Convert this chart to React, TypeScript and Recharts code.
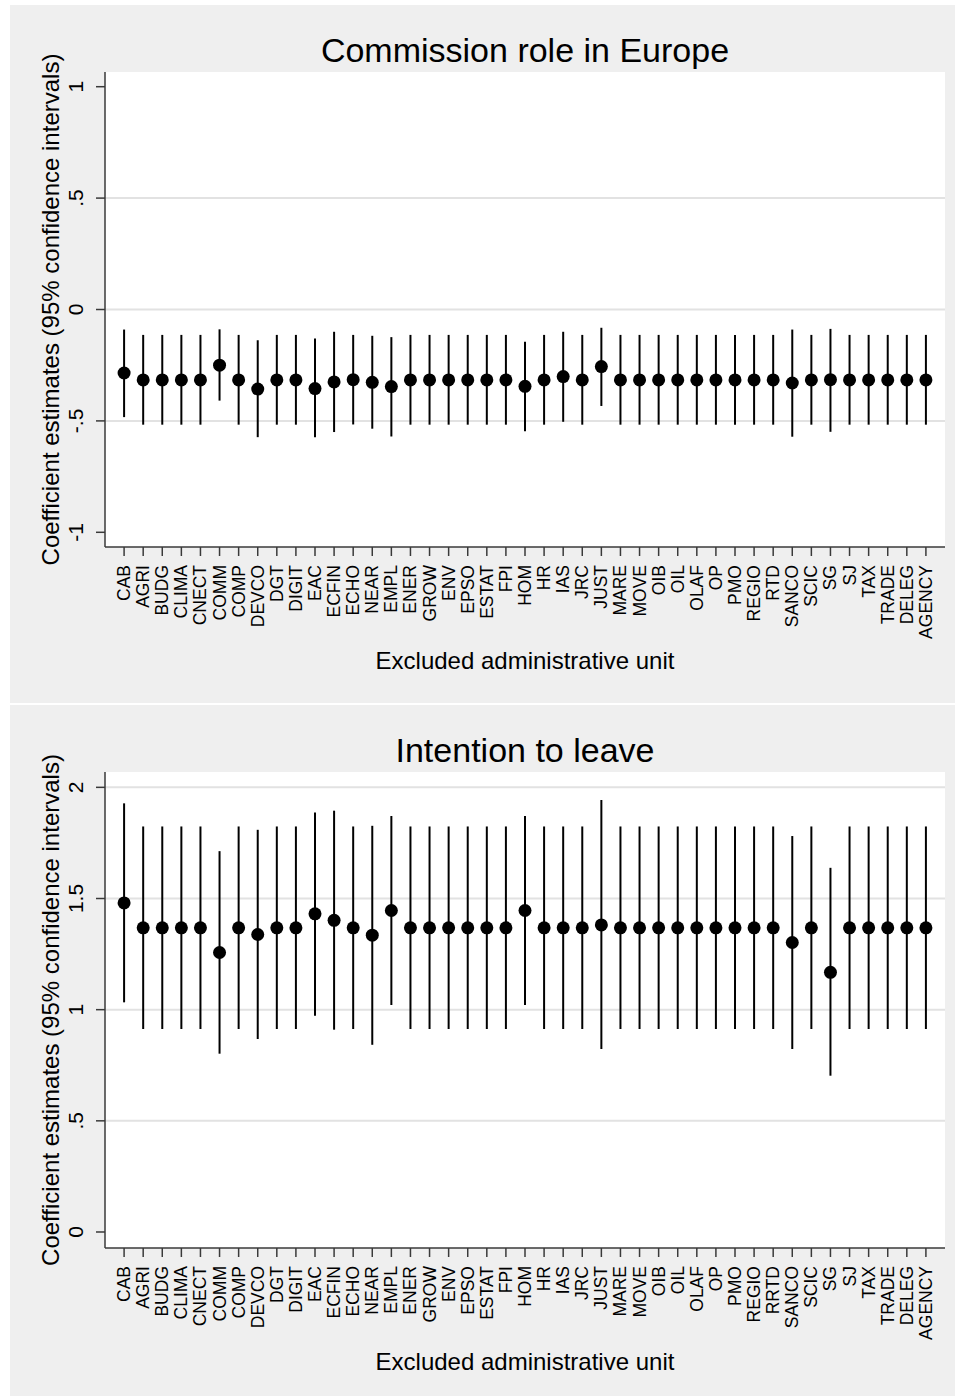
import { CartesianGrid, ErrorBar, Scatter, ScatterChart, XAxis, YAxis } from "recharts"

const unitsTop = [
  "CAB", "AGRI", "BUDG", "CLIMA", "CNECT", "COMM", "COMP", "DEVCO", "DGT", "DIGIT",
  "EAC", "ECFIN", "ECHO", "NEAR", "EMPL", "ENER", "GROW", "ENV", "EPSO", "ESTAT",
  "FPI", "HOM", "HR", "IAS", "JRC", "JUST", "MARE", "MOVE", "OIB", "OIL",
  "OLAF", "OP", "PMO", "REGIO", "RTD", "SANCO", "SCIC", "SG", "SJ", "TAX",
  "TRADE", "DELEG", "AGENCY",
]

const unitsBottom = [
  "CAB", "AGRI", "BUDG", "CLIMA", "CNECT", "COMM", "COMP", "DEVCO", "DGT", "DIGIT",
  "EAC", "ECFIN", "ECHO", "NEAR", "EMPL", "ENER", "GROW", "ENV", "EPSO", "ESTAT",
  "FPI", "HOM", "HR", "IAS", "JRC", "JUST", "MARE", "MOVE", "OIB", "OIL",
  "OLAF", "OP", "PMO", "REGIO", "RRTD", "SANCO", "SCIC", "SG", "SJ", "TAX",
  "TRADE", "DELEG", "AGENCY",
]

// Commission role in Europe
const europeEst = [
  -0.285, -0.316, -0.316, -0.316, -0.316, -0.25, -0.316, -0.357, -0.316, -0.316,
  -0.355, -0.325, -0.315, -0.327, -0.346, -0.316, -0.316, -0.316, -0.316, -0.316,
  -0.316, -0.345, -0.316, -0.301, -0.316, -0.256, -0.316, -0.316, -0.316, -0.316,
  -0.316, -0.316, -0.316, -0.316, -0.316, -0.33, -0.316, -0.315, -0.316, -0.316,
  -0.316, -0.316, -0.316,
]
const europeLo = [
  -0.483, -0.517, -0.517, -0.517, -0.517, -0.409, -0.517, -0.573, -0.517, -0.517,
  -0.573, -0.55, -0.516, -0.535, -0.57, -0.517, -0.517, -0.517, -0.517, -0.517,
  -0.517, -0.547, -0.517, -0.504, -0.517, -0.433, -0.517, -0.517, -0.517, -0.517,
  -0.517, -0.517, -0.517, -0.517, -0.517, -0.571, -0.517, -0.549, -0.517, -0.517,
  -0.517, -0.517, -0.517,
]
const europeHi = [
  -0.09, -0.114, -0.114, -0.114, -0.114, -0.089, -0.114, -0.138, -0.114, -0.114,
  -0.13, -0.1, -0.114, -0.118, -0.124, -0.114, -0.114, -0.114, -0.114, -0.114,
  -0.114, -0.145, -0.114, -0.1, -0.114, -0.082, -0.114, -0.114, -0.114, -0.114,
  -0.114, -0.114, -0.114, -0.114, -0.114, -0.09, -0.114, -0.087, -0.114, -0.114,
  -0.114, -0.114, -0.114,
]

// Intention to leave
const leaveEst = [
  1.48, 1.368, 1.368, 1.368, 1.368, 1.257, 1.368, 1.338, 1.368, 1.368,
  1.431, 1.402, 1.368, 1.335, 1.446, 1.368, 1.368, 1.368, 1.368, 1.368,
  1.368, 1.446, 1.368, 1.368, 1.368, 1.381, 1.368, 1.368, 1.368, 1.368,
  1.368, 1.368, 1.368, 1.368, 1.368, 1.302, 1.368, 1.168, 1.368, 1.368,
  1.368, 1.368, 1.368,
]
const leaveLo = [
  1.033, 0.913, 0.913, 0.913, 0.913, 0.802, 0.913, 0.868, 0.913, 0.913,
  0.973, 0.91, 0.913, 0.842, 1.021, 0.913, 0.913, 0.913, 0.913, 0.913,
  0.913, 1.021, 0.913, 0.913, 0.913, 0.823, 0.913, 0.913, 0.913, 0.913,
  0.913, 0.913, 0.913, 0.913, 0.913, 0.823, 0.913, 0.703, 0.913, 0.913,
  0.913, 0.913, 0.913,
]
const leaveHi = [
  1.928, 1.824, 1.824, 1.824, 1.824, 1.713, 1.824, 1.809, 1.824, 1.824,
  1.887, 1.895, 1.824, 1.827, 1.871, 1.824, 1.824, 1.824, 1.824, 1.824,
  1.824, 1.871, 1.824, 1.824, 1.824, 1.943, 1.824, 1.824, 1.824, 1.824,
  1.824, 1.824, 1.824, 1.824, 1.824, 1.781, 1.824, 1.638, 1.824, 1.824,
  1.824, 1.824, 1.824,
]

const europeTicks = [-1, -0.5, 0, 0.5, 1]
const europeGrid = [-0.5, 0, 0.5]
const leaveTicks = [0, 0.5, 1, 1.5, 2]
const leaveGrid = [0.5, 1, 1.5, 2]

const FONT = "'Liberation Sans', Arial, Helvetica, sans-serif"
const PANEL_BG = "#efefef"
const AXIS = "#3a3a3a"
const yLabel = "Coefficient estimates (95% confidence intervals)"
const xLabel = "Excluded administrative unit"

// stata style: -.5, .5, 1.5
const fmtNum = (v: number) => {
  if (v === 0) return "0"
  const s = String(Math.abs(v)).replace(/^0\./, ".")
  return v < 0 ? "-" + s : s
}

function Panel({ title, units, est, lo, hi, domain, ticks, grid, top, height, xAxisHeight }: any) {
  const data = units.map((u: string, i: number) => ({
    x: i + 1,
    unit: u,
    est: est[i],
    ci: [est[i] - lo[i], hi[i] - est[i]],
  }))
  const width = 945
  const marginTop = 67
  const plotH = height - marginTop - xAxisHeight
  const plotCx = 95 + (width - 95 - 10) / 2

  const XTick = ({ x, y, payload }: any) => (
    <text
      x={x + 6}
      y={y}
      transform={`rotate(-90 ${x + 6} ${y})`}
      textAnchor="end"
      fontSize={17.5}
      fontFamily={FONT}
      fill="#000"
    >
      {units[payload.value - 1]}
    </text>
  )

  const YTick = ({ x, y, payload }: any) => (
    <text
      x={x}
      y={y}
      transform={`rotate(-90 ${x} ${y})`}
      textAnchor="middle"
      fontSize={21}
      fontFamily={FONT}
      fill="#000"
    >
      {fmtNum(payload.value)}
    </text>
  )

  return (
    <div style={{ position: "absolute", left: 10, top, width, height, background: PANEL_BG }}>
      <ScatterChart width={width} height={height} margin={{ top: marginTop, right: 10, left: 0, bottom: 0 }}>
        <CartesianGrid
          horizontalValues={grid}
          vertical={false}
          stroke="#e2e2e2"
          strokeWidth={2}
          fill="#fff"
          fillOpacity={1}
        />
        <XAxis
          type="number"
          dataKey="x"
          domain={[0, 44]}
          ticks={units.map((_: string, i: number) => i + 1)}
          interval={0}
          height={xAxisHeight}
          tickSize={9}
          tickMargin={9}
          stroke={AXIS}
          strokeWidth={1.5}
          tick={<XTick />}
        />
        <YAxis
          type="number"
          dataKey="est"
          domain={domain}
          allowDataOverflow
          ticks={ticks}
          interval={0}
          width={95}
          tickSize={9}
          tickMargin={13}
          stroke={AXIS}
          strokeWidth={1.5}
          tick={<YTick />}
        />
        <Scatter
          data={data}
          isAnimationActive={false}
          shape={(p: any) => <circle cx={p.cx} cy={p.cy} r={6.5} fill="#000" />}
        >
          <ErrorBar dataKey="ci" direction="y" width={0} stroke="#000" strokeWidth={2} />
        </Scatter>
      </ScatterChart>
      <svg
        width={width}
        height={height}
        style={{ position: "absolute", left: 0, top: 0, pointerEvents: "none" }}
      >
        <text x={plotCx} y={45} textAnchor="middle" dominantBaseline="central" fontSize={34} fontFamily={FONT} fill="#000">
          {title}
        </text>
        <text
          x={40}
          y={marginTop + plotH / 2}
          transform={`rotate(-90 40 ${marginTop + plotH / 2})`}
          textAnchor="middle"
          dominantBaseline="central"
          fontSize={24}
          fontFamily={FONT}
          fill="#000"
        >
          {yLabel}
        </text>
        <text
          x={plotCx}
          y={marginTop + plotH + 113}
          textAnchor="middle"
          dominantBaseline="central"
          fontSize={24}
          fontFamily={FONT}
          fill="#000"
        >
          {xLabel}
        </text>
      </svg>
    </div>
  )
}

export default function App() {
  return (
    <div style={{ position: "absolute", left: 0, top: 0, width: 957, height: 1398, background: "#fff" }}>
      <Panel
        title="Commission role in Europe"
        units={unitsTop}
        est={europeEst}
        lo={europeLo}
        hi={europeHi}
        domain={[-1.066, 1.066]}
        ticks={europeTicks}
        grid={europeGrid}
        top={5}
        height={698}
        xAxisHeight={156}
      />
      <Panel
        title="Intention to leave"
        units={unitsBottom}
        est={leaveEst}
        lo={leaveLo}
        hi={leaveHi}
        domain={[-0.072, 2.069]}
        ticks={leaveTicks}
        grid={leaveGrid}
        top={705}
        height={691}
        xAxisHeight={148}
      />
    </div>
  )
}
